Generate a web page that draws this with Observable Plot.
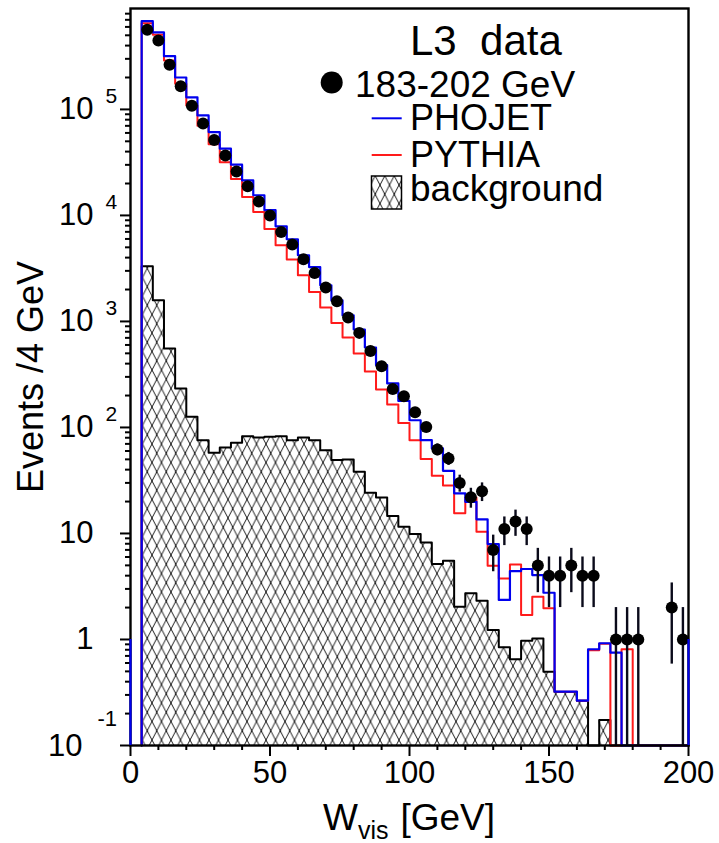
<!DOCTYPE html>
<html>
<head>
<meta charset="utf-8">
<script src="https://cdn.jsdelivr.net/npm/d3@7"></script>
<script src="https://cdn.jsdelivr.net/npm/@observablehq/plot@0.6"></script>
<style>
  html, body { margin: 0; padding: 0; background: #fff; }
  #chart svg { display: block; }
</style>
</head>
<body>
<div id="chart"></div>
<script>
// Visible hadronic mass spectrum, 4 GeV bins from 4 to 200 GeV.
const binWidth = 4;
const binLow = [4, 8, 12, 16, 20, 24, 28, 32, 36, 40, 44, 48, 52, 56, 60, 64, 68, 72, 76, 80,
  84, 88, 92, 96, 100, 104, 108, 112, 116, 120, 124, 128, 132, 136, 140, 144, 148, 152, 156, 160,
  164, 168, 172, 176, 180, 184, 188, 192, 196];

// L3 data, 183-202 GeV (events per bin, 0 = empty bin)
const dataEvents = [564000, 447000, 264000, 165000, 108000, 73800, 51400, 36800, 26000, 18800,
  13500, 10000, 6980, 5310, 3860, 2870, 2090, 1550, 1090, 780,
  527, 378, 231, 197, 139, 101, 62, 51, 30, 22,
  25, 7, 11, 13, 11, 5, 4, 4, 5, 4,
  4, 0, 1, 1, 1, 0, 0, 2, 1];

// PHOJET prediction
const phojet = [679000, 532000, 318000, 200000, 130000, 87700, 61100, 42600, 30100, 21400,
  15500, 11200, 7890, 5960, 4210, 3260, 2190, 1580, 1140, 839,
  568, 387, 260, 178, 117, 75.9, 63.4, 39.0, 23.9, 19.9,
  13.6, 7.94, 2.36, 4.42, 4.62, 4.05, 2.76, 0.322, 0.322, 0.265,
  0.809, 0.921, 0.751, 0, 0, 0, 0, 0, 0];

// PYTHIA prediction
const pythia = [651000, 506000, 290000, 175000, 109000, 70200, 46800, 31700, 22000, 14900,
  10800, 7450, 5230, 3830, 2730, 1900, 1350, 968, 705, 498,
  337, 228, 165, 110, 75.9, 50.3, 35.0, 28.4, 15.5, 21.9,
  10.4, 4.96, 3.77, 5.11, 1.70, 2.53, 1.97, 0.322, 0.322, 0.265,
  0.79, 0.91, 0, 0.81, 0, 0, 0, 0, 0];

// Background expectation
const background = [3310, 1585, 555, 233, 126, 75.9, 57.6, 64.8, 71.6, 82.8,
  80.5, 81.5, 82.8, 75.9, 80.5, 75.9, 61.1, 49.2, 49.9, 38.2,
  24.2, 21.9, 14.6, 11.6, 9.87, 8.24, 5.15, 5.53, 2.04, 2.73,
  2.32, 1.23, 0.844, 0.651, 0.974, 1.02, 0.497, 0.32, 0.32, 0.265,
  0, 0.174, 0, 0, 0, 0, 0, 0, 0];

// PHOJET edge segments drawn at the histogram range limits
const phojetEdgeX = [0, 200];
const phojetEdgeLevel = 1;

// Axis ticks and labels
const xTicks = [0, 50, 100, 150, 200];
const xMinorStep = 10;
const yTicks = [0.1, 1, 10, 100, 1000, 10000, 100000];
const yTickMantissa = ["10", "1", "10", "10", "10", "10", "10"];
const yTickExponent = ["-1", "", "", "2", "3", "4", "5"];

const legendTitle = "L3  data";
const legendEntries = ["183-202 GeV", "PHOJET", "PYTHIA", "background"];
const xTitle = ["W", "vis", "[GeV]"];
const yTitle = "Events /4 GeV";

// ---- layout ----
const W = 719, H = 843;
const mL = 130, mR = 31, mT = 8, mB = 98;
const yDomain = [0.1, 8.95e5];
const FLOOR = yDomain[0];
const font = "'Liberation Sans', Arial, Helvetica, sans-serif";

const kx = (W - mL - mR) / 200;                                   // px per GeV
const decadePx = (H - mT - mB) / Math.log10(yDomain[1] / yDomain[0]); // px per decade

// outline of a histogram as step points; empty bins sit on the floor
function steps(values) {
  const pts = [{x: binLow[0], v: FLOOR}];
  values.forEach((v, i) => {
    const y = v > 0 ? v : FLOOR;
    pts.push({x: binLow[i], v: y}, {x: binLow[i] + binWidth, v: y});
  });
  pts.push({x: binLow[binLow.length - 1] + binWidth, v: FLOOR});
  return pts;
}

const points = binLow.map((lo, i) => ({x: lo + binWidth / 2, n: dataEvents[i]})).filter(d => d.n > 0);
points.forEach(d => {
  const e = Math.sqrt(d.n);
  d.lo = Math.max(d.n - e, FLOOR);
  d.hi = d.n + e;
});

const xMinor = d3.range(0, 200 + 1e-9, xMinorStep).filter(v => !xTicks.includes(v));
const yMinor = [];
for (let p = -1; p <= 5; p++) for (let m = 2; m <= 9; m++) {
  const v = m * Math.pow(10, p);
  if (v < yDomain[1]) yMinor.push(v);
}
const yTickRows = yTicks.map((v, i) => ({v, m: yTickMantissa[i], e: yTickExponent[i]}));
const posRows = yTickRows.filter(d => !d.e.startsWith("-"));
const negRows = yTickRows.filter(d => d.e.startsWith("-"));

const yTickEnd = len => FLOOR / Math.pow(10, len / decadePx);

const chart = Plot.plot({
  width: W,
  height: H,
  marginLeft: mL,
  marginRight: mR,
  marginTop: mT,
  marginBottom: mB,
  style: {fontFamily: font, background: "#fff", overflow: "visible"},
  x: {domain: [0, 200], axis: null},
  y: {type: "log", domain: yDomain, axis: null},
  marks: [
    // background: hatched area plus outline
    Plot.areaY(steps(background), {x: "x", y1: FLOOR, y2: "v", fill: "url(#hatch)"}),
    Plot.line(steps(background), {x: "x", y: "v", stroke: "#000", strokeWidth: 2}),
    // Monte Carlo predictions
    Plot.line(steps(pythia), {x: "x", y: "v", stroke: "#ff1a1a", strokeWidth: 2}),
    Plot.line(steps(phojet), {x: "x", y: "v", stroke: "#0000ee", strokeWidth: 2.2}),
    // data with statistical errors
    Plot.ruleX(points, {x: "x", y1: "lo", y2: "hi", stroke: "#0a0a1a", strokeWidth: 2.4}),
    Plot.dot(points, {x: "x", y: "n", r: 6, fill: "#000", stroke: "none"}),
    // frame
    Plot.frame({stroke: "#000", strokeWidth: 2.4}),
    // y ticks (outward, left)
    Plot.ruleY(yTicks, {y: d => d, x1: -10 / kx, x2: 0, stroke: "#000", strokeWidth: 2}),
    Plot.ruleY(yMinor, {y: d => d, x1: -5 / kx, x2: 0, stroke: "#000", strokeWidth: 2}),
    // x ticks (outward, below)
    Plot.ruleX(xTicks, {x: d => d, y1: FLOOR, y2: yTickEnd(11), stroke: "#000", strokeWidth: 2}),
    Plot.ruleX(xMinor, {x: d => d, y1: FLOOR, y2: yTickEnd(5), stroke: "#000", strokeWidth: 2}),
    // x tick labels
    Plot.text(xTicks, {x: d => d, y: FLOOR, text: d => String(d), dy: 28, fontSize: 31, fill: "#000"}),
    // y tick labels: mantissa and raised exponent
    Plot.text(posRows, {x: 0, y: "v", text: "m", textAnchor: "end", dx: -37, fontSize: 31, fill: "#000"}),
    Plot.text(posRows.filter(d => d.e), {x: 0, y: "v", text: "e", textAnchor: "start", dx: -25, dy: -13, fontSize: 21, fill: "#000"}),
    Plot.text(negRows, {x: 0, y: "v", text: "m", textAnchor: "end", dx: -48, dy: 1, fontSize: 31, fill: "#000"}),
    Plot.text(negRows, {x: 0, y: "v", text: "e", textAnchor: "start", dx: -33, dy: -27, fontSize: 22, fill: "#000"}),
    // PHOJET range-edge segments
    Plot.ruleX(phojetEdgeX, {x: d => d, y1: FLOOR, y2: phojetEdgeLevel, stroke: "#0000ee", strokeWidth: 2.2})
  ]
});

const svg = d3.select(chart);

// crosshatch pattern for the background
const defs = svg.insert("defs", ":first-child");
const pat = defs.append("pattern")
  .attr("id", "hatch")
  .attr("patternUnits", "userSpaceOnUse")
  .attr("width", 9.5)
  .attr("height", 18.5);
pat.append("rect").attr("width", 9.5).attr("height", 18.5).attr("fill", "#fff");
pat.append("path")
  .attr("d", "M0,0L9.5,18.5M-9.5,0L0,18.5M9.5,0L19,18.5M0,18.5L9.5,0M-9.5,18.5L0,0M9.5,18.5L19,0")
  .attr("stroke", "#000")
  .attr("stroke-width", 0.9)
  .attr("fill", "none");

// legend
const lg = svg.append("g").attr("font-family", font).attr("fill", "#000").attr("text-anchor", "start");
lg.append("text").attr("x", 410).attr("y", 55).attr("font-size", 42)
  .style("white-space", "pre").text(legendTitle);
lg.append("circle").attr("cx", 331.7).attr("cy", 82.5).attr("r", 11).attr("fill", "#000");
lg.append("text").attr("x", 355).attr("y", 96.7).attr("font-size", 37).text(legendEntries[0]);
lg.append("line").attr("x1", 371.7).attr("x2", 401.7).attr("y1", 118.3).attr("y2", 118.3)
  .attr("stroke", "#0000ee").attr("stroke-width", 2);
lg.append("text").attr("x", 410).attr("y", 130).attr("font-size", 36).text(legendEntries[1]);
lg.append("line").attr("x1", 371.7).attr("x2", 401.7).attr("y1", 155).attr("y2", 155)
  .attr("stroke", "#ff1a1a").attr("stroke-width", 2);
lg.append("text").attr("x", 410).attr("y", 166.7).attr("font-size", 36).text(legendEntries[2]);
lg.append("rect").attr("x", 371.5).attr("y", 176).attr("width", 30).attr("height", 33)
  .attr("fill", "url(#hatch)").attr("stroke", "#000").attr("stroke-width", 1.5);
lg.append("text").attr("x", 410).attr("y", 200.5).attr("font-size", 37).text(legendEntries[3]);

// axis titles
const xt = svg.append("text").attr("font-family", font).attr("fill", "#000")
  .attr("x", (mL + W - mR) / 2).attr("y", 830).attr("text-anchor", "middle").attr("font-size", 37);
xt.append("tspan").text(xTitle[0]);
xt.append("tspan").attr("font-size", 25).attr("dy", 9).text(xTitle[1]);
xt.append("tspan").attr("dy", -9).attr("dx", 12).text(xTitle[2]);

svg.append("text").attr("font-family", font).attr("fill", "#000")
  .attr("transform", "translate(43,377) rotate(-90)")
  .attr("text-anchor", "middle").attr("font-size", 36).text(yTitle);

document.getElementById("chart").appendChild(chart);
</script>
</body>
</html>
